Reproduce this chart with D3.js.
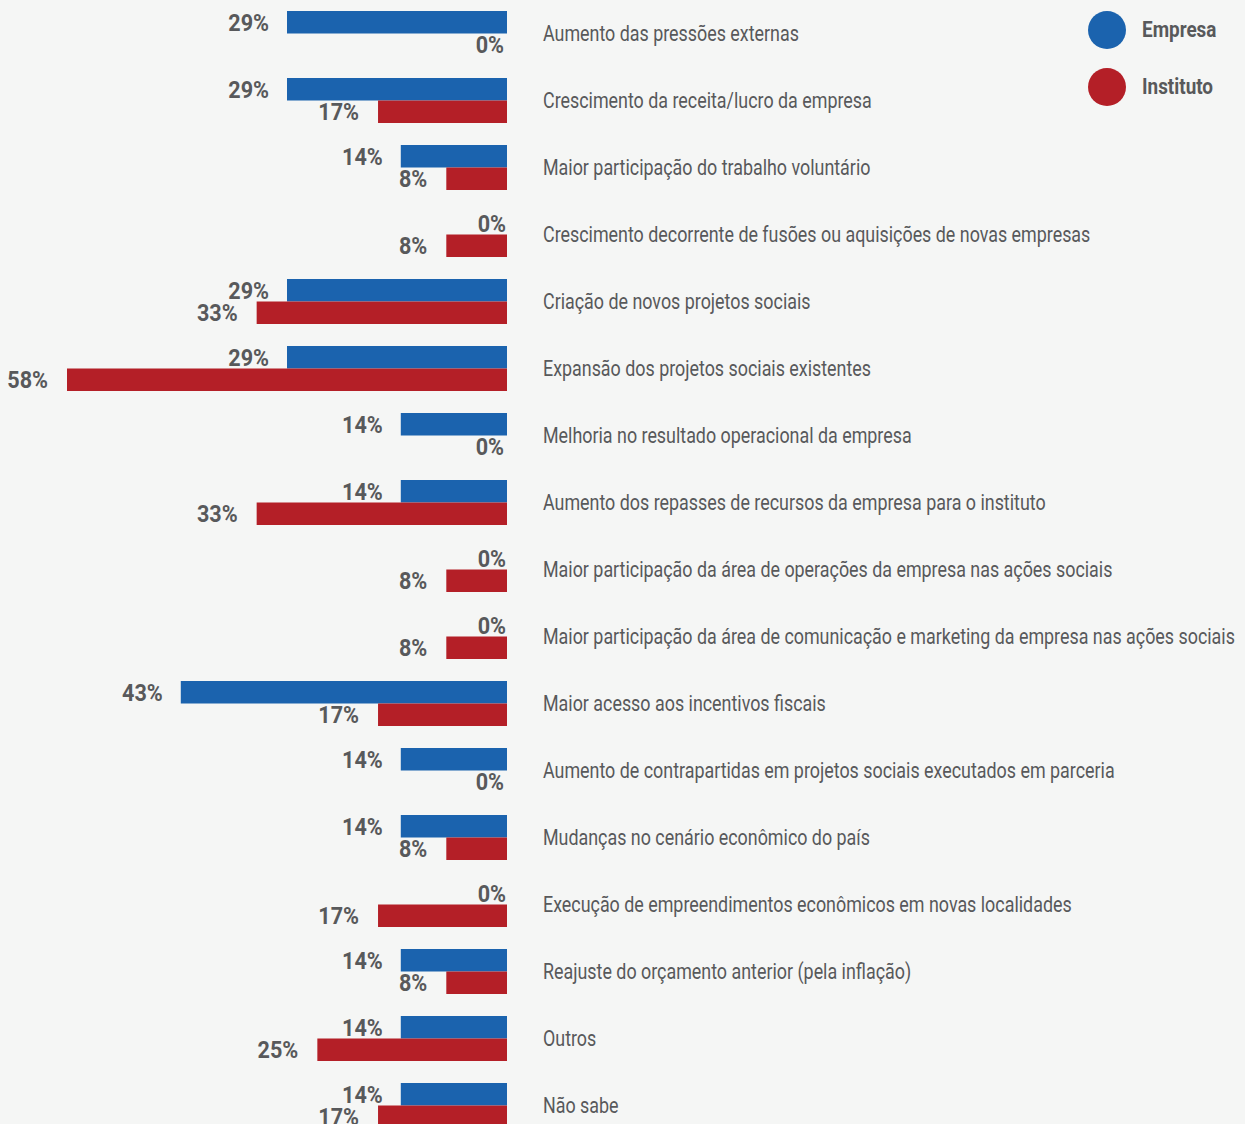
<!DOCTYPE html>
<html>
<head>
<meta charset="utf-8">
<script src="https://cdn.jsdelivr.net/npm/d3@7"></script>
<style>
  html, body { margin: 0; padding: 0; background: #f5f6f5; }
  svg { display: block; }
  text { font-family: Roboto, "Liberation Sans", sans-serif; fill: #58595b; }
</style>
</head>
<body>
<svg width="1245" height="1124"></svg>
<script>
const categories = [
  'Aumento das pressões externas',
  'Crescimento da receita/lucro da empresa',
  'Maior participação do trabalho voluntário',
  'Crescimento decorrente de fusões ou aquisições de novas empresas',
  'Criação de novos projetos sociais',
  'Expansão dos projetos sociais existentes',
  'Melhoria no resultado operacional da empresa',
  'Aumento dos repasses de recursos da empresa para o instituto',
  'Maior participação da área de operações da empresa nas ações sociais',
  'Maior participação da área de comunicação e marketing da empresa nas ações sociais',
  'Maior acesso aos incentivos fiscais',
  'Aumento de contrapartidas em projetos sociais executados em parceria',
  'Mudanças no cenário econômico do país',
  'Execução de empreendimentos econômicos em novas localidades',
  'Reajuste do orçamento anterior (pela inflação)',
  'Outros',
  'Não sabe'
];
const empresa   = [29, 29, 14, 0, 29, 29, 14, 14, 0, 0, 43, 14, 14, 0, 14, 14, 14];
const instituto = [0, 17, 8, 8, 33, 58, 0, 33, 8, 8, 17, 0, 8, 17, 8, 25, 17];
const seriesNames = ['Empresa', 'Instituto'];
const colors = ['#1b63ae', '#b41f27'];

const svg = d3.select('svg');

const x = d3.scaleLinear().domain([0, 58]).range([507, 67]);
const y = d3.scaleBand().domain(categories).range([11, 1128]).paddingInner(22 / 67).paddingOuter(0);
const sub = d3.scaleBand().domain(seriesNames).range([0, y.bandwidth()]);

const rows = categories.map((c, i) => ({ cat: c, vals: [empresa[i], instituto[i]] }));

// condensed look: squeeze text horizontally
const squeezeCat = 0.813;
const squeezeVal = 0.9;
const squeezeLeg = 0.86;

const row = svg.selectAll('.row')
  .data(rows)
  .enter()
  .append('g')
  .attr('class', 'row')
  .attr('transform', d => `translate(0,${y(d.cat)})`);

row.selectAll('rect')
  .data(d => d.vals.map((v, j) => ({ v, s: seriesNames[j], j })))
  .enter()
  .append('rect')
  .attr('x', d => x(d.v))
  .attr('y', d => sub(d.s))
  .attr('width', d => x(0) - x(d.v))
  .attr('height', sub.bandwidth())
  .attr('fill', d => colors[d.j]);

row.selectAll('.val')
  .data(d => d.vals.map((v, j) => ({ v, s: seriesNames[j], j })))
  .enter()
  .append('g')
  .attr('class', 'val')
  .attr('transform', d => {
    const xe = d.v === 0 ? (d.j === 0 ? 506 : 504) : x(d.v) - (d.j === 0 ? 18 : 19);
    return `translate(${xe},${sub(d.s) + sub.bandwidth() / 2}) scale(${squeezeVal},1)`;
  })
  .append('text')
  .attr('text-anchor', 'end')
  .attr('dy', '0.36em')
  .style('font-size', '24px')
  .style('font-weight', 'bold')
  .text(d => d.v + '%');

row.append('g')
  .attr('transform', `translate(543,${y.bandwidth() / 2}) scale(${squeezeCat},1)`)
  .append('text')
  .attr('dy', '0.34em')
  .style('font-size', '22px')
  .text(d => d.cat);

// legend
const legend = svg.selectAll('.legend')
  .data(seriesNames)
  .enter()
  .append('g')
  .attr('class', 'legend')
  .attr('transform', (d, i) => `translate(1107,${30 + i * 57})`);

legend.append('circle')
  .attr('r', 19)
  .attr('fill', (d, i) => colors[i]);

legend.append('g')
  .attr('transform', `translate(35,0) scale(${squeezeLeg},1)`)
  .append('text')
  .attr('dy', '0.34em')
  .style('font-size', '22px')
  .style('font-weight', 'bold')
  .text(d => d);
</script>
</body>
</html>
